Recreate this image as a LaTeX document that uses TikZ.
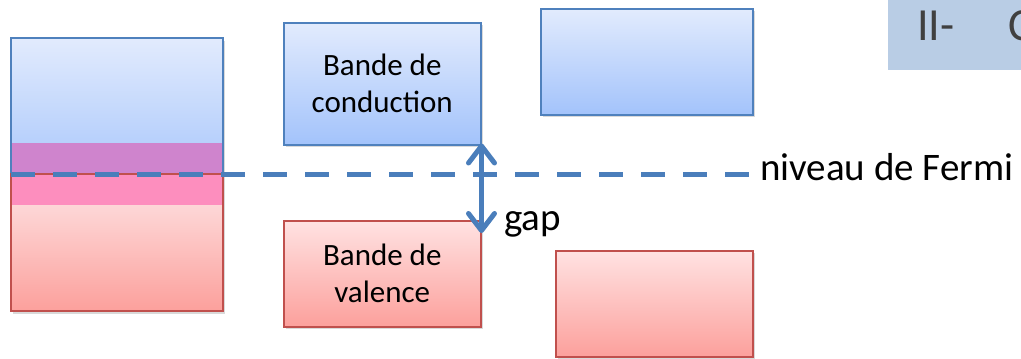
\documentclass[tikz,border=0pt]{standalone}
\usepackage{fontspec}
\setmainfont{Carlito}
\usetikzlibrary{arrows.meta,shadows}
\definecolor{bTop}{RGB}{226,235,253}
\definecolor{bBot}{RGB}{163,195,251}
\definecolor{bLine}{RGB}{79,129,189}
\definecolor{rTop}{RGB}{255,226,226}
\definecolor{rBot}{RGB}{252,160,156}
\definecolor{rLine}{RGB}{192,80,77}
\definecolor{purpleBand}{RGB}{207,132,205}
\definecolor{pinkBand}{RGB}{253,142,190}
\definecolor{lineBlue}{RGB}{74,126,187}
\definecolor{titleFill}{RGB}{185,205,229}
\definecolor{titleText}{RGB}{64,64,64}
\tikzset{
  shadowed/.style={drop shadow={opacity=0.3,shadow xshift=2pt,shadow yshift=-2.5pt}},
  bluebox/.style={draw=bLine,line width=1.5pt,top color=bTop,bottom color=bBot,shadowed,
    anchor=north west,inner sep=0pt,align=center,font=\fontsize{31}{37}\selectfont},
  redbox/.style={draw=rLine,line width=1.5pt,top color=rTop,bottom color=rBot,shadowed,
    anchor=north west,inner sep=0pt,align=center,font=\fontsize{31}{37}\selectfont},
  biglabel/.style={font=\fontsize{39}{46}\selectfont,inner sep=0pt},
  fermiline/.style={draw=lineBlue,line width=5pt,dash pattern=on 24pt off 18pt},
  gaparrow/.style={draw=lineBlue,line width=5pt,line cap=round,line join=round,
    {Straight Barb[length=17pt,width=26pt,line cap=round,line join=round]}-{Straight Barb[length=17pt,width=26pt,line cap=round,line join=round]}}
}
\begin{document}
\begin{tikzpicture}[x=1pt,y=-1pt]
\clip (0,0) rectangle (1021,359);
% title
\fill[titleFill] (888,0) rectangle (1030,70);
\node[anchor=base west,inner sep=0pt,text=titleText,font=\fontsize{46}{50}\selectfont] (title) at (917,40) {II-\hspace{54pt}C};
% left column (metal)
\path[fill=white,shadowed] (11,38) rectangle (223,311);
\shade[top color=bTop,bottom color={rgb,255:red,183;green,208;blue,252}] (11,38) rectangle (223,143);
\fill[purpleBand] (11,143) rectangle (223,174);
\fill[pinkBand] (11,174) rectangle (223,205);
\shade[top color={rgb,255:red,253;green,215;blue,215},bottom color=rBot] (11,205) rectangle (223,311);
\draw[bLine,line width=1.5pt] (11,174) -- (11,38) -- (223,38) -- (223,174);
\draw[rLine,line width=1.5pt] (11,174) rectangle (223,311);
\coordinate (fstart) at (11,174);
% middle column (semiconductor)
\node[bluebox,minimum width=197pt,minimum height=122pt] (cond) at (283,22) {Bande de\\conduction};
\node[redbox,minimum width=197pt,minimum height=106pt] (val) at (283,220) {Bande de\\valence};
% right column (insulator)
\node[bluebox,minimum width=212pt,minimum height=106pt] (ccb) at (540,8) {};
\node[redbox,minimum width=197pt,minimum height=106pt] (cvb) at (555,250) {};
% Fermi level
\node[biglabel,anchor=base west] (fermi) at (760,180) {niveau de Fermi};
\coordinate (fend) at (749,174);
\draw[fermiline] (fstart) -- (fend);
% gap
\draw[gaparrow,shorten <=-2pt,shorten >=-13pt] (cond.south east) -- (val.north east);
\node[biglabel,anchor=base west] (gap) at (504,230) {gap};
\end{tikzpicture}
\end{document}
